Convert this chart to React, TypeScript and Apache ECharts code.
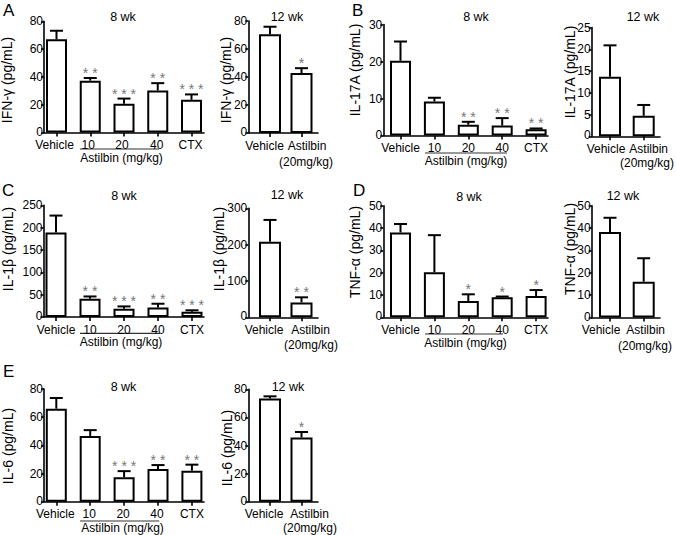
import React, { useEffect, useRef } from "react";
import * as echarts from "echarts";

const FONT = "'Liberation Sans', Arial, Helvetica, sans-serif";

// ---- categories ----
const groups8 = ["Vehicle", "10", "20", "40", "CTX"];
const groups12 = ["Vehicle", "Astilbin"];
const doseNote12 = "(20mg/kg)";
const doseLabel = "Astilbin (mg/kg)";

// ---- A: IFN-γ ----
const ifn8Mean = [67, 37.3, 20.6, 30.2, 23.5];
const ifn8Err = [73.2, 39.2, 24.4, 35.5, 27.4];
const ifn8Sig = ["", "**", "***", "**", "***"];
const ifn12Mean = [70.5, 42.8];
const ifn12Err = [75.9, 46.3];
const ifn12Sig = ["", "*"];

// ---- B: IL-17A ----
const il17a8Mean = [20.2, 9.2, 2.9, 2.7, 1.7];
const il17a8Err = [25.4, 10.2, 3.7, 4.7, 1.9];
const il17a8Sig = ["", "", "**", "**", "**"];
const il17a12Mean = [13.7, 4.7];
const il17a12Err = [20.9, 7.2];
const il17a12Sig = ["", ""];

// ---- C: IL-1β ----
const il1b8Mean = [189, 40.8, 18.5, 21.5, 11.5];
const il1b8Err = [227, 46, 23.7, 29.7, 15];
const il1b8Sig = ["", "**", "***", "**", "***"];
const il1b12Mean = [208, 41];
const il1b12Err = [268, 55];
const il1b12Sig = ["", "**"];

// ---- D: TNF-α ----
const tnf8Mean = [38, 20.2, 7.3, 9.0, 9.5];
const tnf8Err = [41.8, 36.8, 10.3, 9.3, 12.2];
const tnf8Sig = ["", "", "*", "*", "*"];
const tnf12Mean = [38.2, 16];
const tnf12Err = [44.6, 26.5];
const tnf12Sig = ["", ""];

// ---- E: IL-6 ----
const il68Mean = [66, 46.7, 17.3, 23.2, 22];
const il68Err = [73.6, 50.8, 21.7, 26, 26.3];
const il68Sig = ["", "", "***", "**", "**"];
const il612Mean = [73.4, 45.7];
const il612Err = [75, 49.6];
const il612Sig = ["", "*"];

// ---- y axis tick labels ----
const ifnTicks = [0, 20, 40, 60, 80];
const il17a8Ticks = [0, 10, 20, 30];
const il17a12Ticks = [0, 5, 10, 15, 20, 25];
const il1b8Ticks = [0, 50, 100, 150, 200, 250];
const il1b12Ticks = [0, 100, 200, 300];
const tnfTicks = [0, 10, 20, 30, 40, 50];
const il6Ticks = [0, 20, 40, 60, 80];

type Panel = {
  cats: string[];
  mean: number[];
  err: number[];
  sig: string[];
  ticks: number[];
  yTitle: string;
  title: string;
  box: { left: number; right: number; top: number; bottom: number };
  first: number;
  step: number;
  barW: number;
  labelDx: number[];
  yTitlePos: number[];
  titlePos: number[];
  group?: { x1: number; x2: number; y: number; tx: number; ty: number };
  notePos?: number[];
};

const panels: Panel[] = [
  {
    cats: groups8, mean: ifn8Mean, err: ifn8Err, sig: ifn8Sig, ticks: ifnTicks,
    yTitle: "IFN-γ (pg/mL)", title: "8 wk",
    box: { left: 44, right: 204, top: 21.3, bottom: 132.5 }, first: 56.5, step: 33.75, barW: 21,
    labelDx: [-2, -2, -2, -1, -1], yTitlePos: [7, 80], titlePos: [123, 17],
    group: { x1: 80, x2: 159, y: 149, tx: 121.5, ty: 157.5 },
  },
  {
    cats: groups12, mean: ifn12Mean, err: ifn12Err, sig: ifn12Sig, ticks: ifnTicks,
    yTitle: "IFN-γ (pg/mL)", title: "12 wk",
    box: { left: 248.3, right: 318, top: 21, bottom: 133 }, first: 270, step: 31.5, barW: 22,
    labelDx: [-5.5, 5.5], yTitlePos: [226, 80], titlePos: [287, 17], notePos: [306, 162],
  },
  {
    cats: groups8, mean: il17a8Mean, err: il17a8Err, sig: il17a8Sig, ticks: il17a8Ticks,
    yTitle: "IL-17A (pg/mL)", title: "8 wk",
    box: { left: 383.3, right: 548, top: 24.5, bottom: 135.5 }, first: 400.5, step: 33.9, barW: 21,
    labelDx: [0, 0, 0, 0, 0], yTitlePos: [355, 70], titlePos: [476, 17],
    group: { x1: 425, x2: 507, y: 153, tx: 466, ty: 161 },
  },
  {
    cats: groups12, mean: il17a12Mean, err: il17a12Err, sig: il17a12Sig, ticks: il17a12Ticks,
    yTitle: "IL-17A (pg/mL)", title: "12 wk",
    box: { left: 591.7, right: 660, top: 27.5, bottom: 136.3 }, first: 610, step: 33.7, barW: 22,
    labelDx: [-4, 5], yTitlePos: [570, 72], titlePos: [643, 17], notePos: [647, 163],
  },
  {
    cats: groups8, mean: il1b8Mean, err: il1b8Err, sig: il1b8Sig, ticks: il1b8Ticks,
    yTitle: "IL-1β (pg/mL)", title: "8 wk",
    box: { left: 43.5, right: 204, top: 205.3, bottom: 317 }, first: 56, step: 34, barW: 21,
    labelDx: [0, 0, 0, 0, 0], yTitlePos: [8, 249], titlePos: [124, 196],
    group: { x1: 80, x2: 160, y: 333.3, tx: 121, ty: 342 },
  },
  {
    cats: groups12, mean: il1b12Mean, err: il1b12Err, sig: il1b12Sig, ticks: il1b12Ticks,
    yTitle: "IL-1β (pg/mL)", title: "12 wk",
    box: { left: 248.3, right: 318, top: 208.3, bottom: 317.3 }, first: 270, step: 31.5, barW: 22,
    labelDx: [-6, 9], yTitlePos: [219, 249], titlePos: [287, 195], notePos: [311, 345],
  },
  {
    cats: groups8, mean: tnf8Mean, err: tnf8Err, sig: tnf8Sig, ticks: tnfTicks,
    yTitle: "TNF-α (pg/mL)", title: "8 wk",
    box: { left: 383.3, right: 548, top: 205.7, bottom: 317.3 }, first: 400.5, step: 33.9, barW: 21,
    labelDx: [0, 0, 0, 0, 0], yTitlePos: [355, 252], titlePos: [469, 197],
    group: { x1: 425, x2: 503, y: 334, tx: 465.5, ty: 343 },
  },
  {
    cats: groups12, mean: tnf12Mean, err: tnf12Err, sig: tnf12Sig, ticks: tnfTicks,
    yTitle: "TNF-α (pg/mL)", title: "12 wk",
    box: { left: 591.7, right: 660, top: 205.7, bottom: 317.5 }, first: 610, step: 33.7, barW: 22,
    labelDx: [-9, 2], yTitlePos: [570, 249], titlePos: [623, 196], notePos: [645, 345.5],
  },
  {
    cats: groups8, mean: il68Mean, err: il68Err, sig: il68Sig, ticks: il6Ticks,
    yTitle: "IL-6 (pg/mL)", title: "8 wk",
    box: { left: 44, right: 204, top: 389, bottom: 501.7 }, first: 56.3, step: 33.9, barW: 21,
    labelDx: [-1, -1, -1, -1, 0], yTitlePos: [8, 446], titlePos: [123.5, 387],
    group: { x1: 80, x2: 159.3, y: 521, tx: 122.5, ty: 528 },
  },
  {
    cats: groups12, mean: il612Mean, err: il612Err, sig: il612Sig, ticks: il6Ticks,
    yTitle: "IL-6 (pg/mL)", title: "12 wk",
    box: { left: 248.3, right: 318, top: 389.3, bottom: 501.7 }, first: 270, step: 31.5, barW: 22,
    labelDx: [-6, 8], yTitlePos: [227, 448], titlePos: [288, 387], notePos: [310, 528],
  },
];

const panelLetters = [
  { t: "A", x: 3, y: 2 },
  { t: "B", x: 352, y: 2 },
  { t: "C", x: 2, y: 182 },
  { t: "D", x: 353, y: 182 },
  { t: "E", x: 3, y: 363 },
];

function textStyle(text: string, size: number, align: string, vAlign: string, fill = "#000") {
  return {
    text,
    fontSize: size,
    fontFamily: FONT,
    fill,
    align,
    verticalAlign: vAlign,
    textAlign: align,
    textVerticalAlign: vAlign,
  };
}

function buildOption() {
  const grid: any[] = [];
  const xAxis: any[] = [];
  const yAxis: any[] = [];
  const series: any[] = [];
  const graphic: any[] = [];
  const axisLineStyle = { color: "#000", width: 1.6 };

  panels.forEach((p, i) => {
    const { left, right, top, bottom } = p.box;
    grid.push({
      left, top, width: right - left, height: bottom - top,
      containLabel: false, outerBoundsMode: "none",
    });
    const idx = p.cats.map((_, k) => k);
    const labelVals = idx.map((k) => k + p.labelDx[k] / p.step);
    xAxis.push({
      type: "value",
      gridIndex: i,
      min: (left - p.first) / p.step,
      max: (right - p.first) / p.step,
      axisLine: { show: true, onZero: false, lineStyle: axisLineStyle },
      axisTick: { show: true, customValues: idx, length: 4, lineStyle: axisLineStyle },
      axisLabel: {
        show: true,
        showMinLabel: true,
        showMaxLabel: true,
        hideOverlap: false,
        customValues: labelVals,
        formatter: (v: number) => p.cats[Math.round(v)] ?? "",
        color: "#000",
        fontFamily: FONT,
        fontSize: 12,
        margin: 6,
        lineHeight: 13,
      },
      splitLine: { show: false },
    });
    const yMax = p.ticks[p.ticks.length - 1];
    const yStep = p.ticks[1] - p.ticks[0];
    const pxPerUnit = (bottom - top) / yMax;
    // the "0" label sits 1px above the baseline, as in the reference
    const yLabelVals = p.ticks.map((t) => (t === 0 ? 1 / pxPerUnit : t));
    yAxis.push({
      type: "value",
      gridIndex: i,
      min: 0,
      max: yMax,
      interval: yStep,
      axisLine: { show: true, onZero: false, lineStyle: axisLineStyle },
      axisTick: { show: true, length: 3, lineStyle: axisLineStyle },
      axisLabel: {
        color: "#000", fontFamily: FONT, fontSize: 12, margin: 1, lineHeight: 10,
        customValues: yLabelVals,
        formatter: (v: number) => String(Math.round(v / yStep) * yStep),
        showMinLabel: true, showMaxLabel: true, hideOverlap: false,
      },
      splitLine: { show: false },
    });
    series.push({
      type: "bar",
      xAxisIndex: i,
      yAxisIndex: i,
      data: p.mean.map((v, k) => [k, v]),
      barWidth: p.barW,
      itemStyle: { color: "#fff", borderColor: "#000", borderWidth: 2 },
      z: 2,
    });
    series.push({
      type: "custom",
      xAxisIndex: i,
      yAxisIndex: i,
      clip: false,
      z: 3,
      data: p.mean.map((v, k) => [k, v, p.err[k]]),
      renderItem: (params: any, api: any) => {
        const x = api.value(0);
        const p0 = api.coord([x, api.value(1)]);
        const p1 = api.coord([x, api.value(2)]);
        const ls = { stroke: "#000", lineWidth: 2 };
        const children: any[] = [
          { type: "line", shape: { x1: p0[0], y1: p0[1], x2: p1[0], y2: p1[1] }, style: ls },
          { type: "line", shape: { x1: p1[0] - 6.5, y1: p1[1], x2: p1[0] + 6.5, y2: p1[1] }, style: ls },
        ];
        const s = p.sig[params.dataIndex];
        if (s) {
          children.push({
            type: "text",
            x: p1[0],
            y: p1[1] - 5,
            style: textStyle(s.split("").join(" "), 14, "center", "middle", "#777"),
          });
        }
        return { type: "group", children };
      },
    });

    graphic.push({
      type: "text",
      x: p.titlePos[0],
      y: p.titlePos[1],
      style: textStyle(p.title, 12.5, "center", "middle"),
    });
    graphic.push({
      type: "text",
      x: p.yTitlePos[0],
      y: p.yTitlePos[1],
      rotation: Math.PI / 2,
      style: textStyle(p.yTitle, 14, "center", "middle"),
    });
    if (p.group) {
      graphic.push({
        type: "line",
        shape: { x1: p.group.x1, y1: p.group.y, x2: p.group.x2, y2: p.group.y },
        style: { stroke: "#333", lineWidth: 1.2 },
      });
      graphic.push({
        type: "text",
        x: p.group.tx,
        y: p.group.ty,
        style: textStyle(doseLabel, 12, "center", "middle"),
      });
    }
    if (p.notePos) {
      graphic.push({
        type: "text",
        x: p.notePos[0],
        y: p.notePos[1],
        style: textStyle(doseNote12, 12, "center", "middle"),
      });
    }
  });

  panelLetters.forEach((l) => {
    graphic.push({
      type: "text",
      x: l.x,
      y: l.y,
      style: textStyle(l.t, 17, "left", "top"),
    });
  });

  return {
    animation: false,
    backgroundColor: "#fff",
    grid,
    xAxis,
    yAxis,
    series,
    graphic,
  };
}

export default function App() {
  const ref = useRef<HTMLDivElement>(null);
  useEffect(() => {
    const chart = echarts.init(ref.current!, null, { renderer: "svg", width: 676, height: 535 });
    chart.setOption(buildOption() as any);
    return () => chart.dispose();
  }, []);
  return (
    <div
      ref={ref}
      style={{ position: "fixed", left: 0, top: 0, width: 676, height: 535, background: "#fff" }}
    />
  );
}
